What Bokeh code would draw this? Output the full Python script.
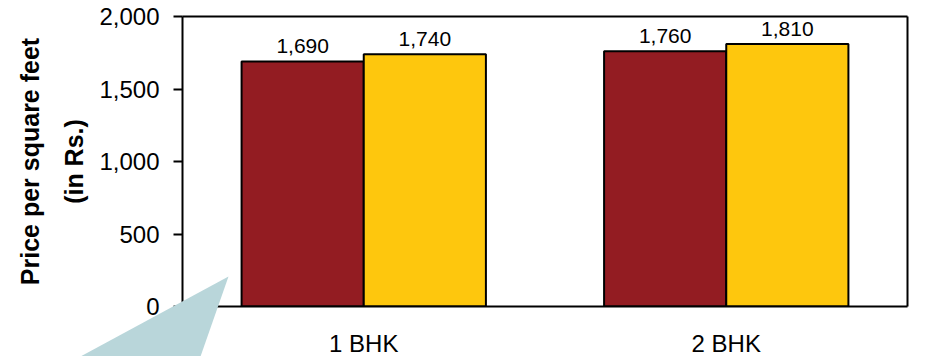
from bokeh.plotting import figure
from bokeh.models import (ColumnDataSource, FactorRange, Range1d, Title,
                          NumeralTickFormatter, FixedTicker, CategoricalAxis,
                          LinearAxis)
from bokeh.core.properties import value
from bokeh.transform import dodge
from bokeh.embed import file_html
from bokeh.resources import INLINE

# Price per square foot (Rs.) by flat type, two series side by side
categories = ["1 BHK", "2 BHK"]
series_a = [1690, 1760]
series_b = [1740, 1810]
y_ticks = [0, 500, 1000, 1500, 2000]

FONT = "Liberation Sans"
RED = "#931C22"
YELLOW = "#FEC70D"
CALLOUT = "#B9D6DA"

# plot frame geometry (canvas pixels)
FRAME_LEFT, FRAME_TOP, FRAME_W, FRAME_H = 182, 16, 725, 290
Y_MAX = 2000

# callout pointer shape, in canvas pixels
callout_px = [(228, 276), (80, 356), (200, 356)]


def canvas_to_data(px, py):
    """Convert a canvas pixel to the plot's data space (x in factor units)."""
    x = (px - FRAME_LEFT) / FRAME_W * len(categories)
    y = (FRAME_TOP + FRAME_H - py) / FRAME_H * Y_MAX
    return x, y


source = ColumnDataSource(dict(
    cat=categories,
    a=series_a,
    b=series_b,
    a_txt=[f"{v:,}" for v in series_a],
    b_txt=[f"{v:,}" for v in series_b],
))

p = figure(
    x_range=FactorRange(*categories, range_padding=0),
    y_range=Range1d(0, Y_MAX),
    frame_width=FRAME_W, frame_height=FRAME_H,
    min_border_left=FRAME_LEFT, min_border_right=30,
    min_border_top=FRAME_TOP, min_border_bottom=50,
    output_backend="svg", toolbar_location=None,
)
p.grid.visible = False
p.outline_line_color = None
p.background_fill_color = "white"
p.border_fill_color = "white"

# the figure's own axes, taken before the edge axes are added
xax = p.below[0]
yax = p.left[0]

# top and right edges of the box as bare axis lines, so value labels can sit over them
top_edge = CategoricalAxis(major_tick_line_color=None, minor_tick_line_color=None,
                           major_tick_out=0, major_label_standoff=0,
                           major_label_text_font_size="0px",
                           axis_line_color="black", axis_line_width=2)
right_edge = LinearAxis(ticker=FixedTicker(ticks=[]), major_tick_line_color=None,
                        minor_tick_line_color=None, major_tick_out=0,
                        major_label_standoff=0, major_label_text_font_size="0px",
                        axis_line_color="black", axis_line_width=2)
p.add_layout(top_edge, "above")
p.add_layout(right_edge, "right")

BAR_W = 0.337
OFF = BAR_W / 2

p.vbar(x=dodge("cat", -OFF, range=p.x_range), top="a", width=BAR_W, source=source,
       fill_color=RED, line_color="black", line_width=2)
p.vbar(x=dodge("cat", OFF, range=p.x_range), top="b", width=BAR_W, source=source,
       fill_color=YELLOW, line_color="black", line_width=2)

# value labels on white boxes (they sit over the top border where they touch it)
for field, txt, off in (("a", "a_txt", -OFF), ("b", "b_txt", OFF)):
    p.text(x=dodge("cat", off, range=p.x_range), y=field, text=txt, source=source,
           text_align="center", text_baseline="alphabetic", y_offset=-15,
           text_font=value(FONT), text_font_size="21px", text_color="black",
           background_fill_color="white", padding=4, level="overlay")

# y axis
yax.ticker = FixedTicker(ticks=y_ticks)
yax.formatter = NumeralTickFormatter(format="0,0")
yax.minor_tick_line_color = None
yax.major_tick_in = 0
yax.major_tick_out = 9
yax.major_tick_line_color = "black"
yax.major_tick_line_width = 2
yax.axis_line_color = "black"
yax.axis_line_width = 2
yax.major_label_standoff = 14
yax.major_label_text_font = FONT
yax.major_label_text_font_size = "24px"
yax.major_label_text_color = "black"
yax.axis_label = "(in Rs.)"
yax.axis_label_text_font = FONT
yax.axis_label_text_font_size = "25px"
yax.axis_label_text_font_style = "bold"
yax.axis_label_text_color = "black"
yax.axis_label_standoff = 8

p.add_layout(Title(text="Price per square feet", text_font=FONT,
                   text_font_size="25px", text_font_style="bold",
                   text_color="black", align="center", standoff=27), "left")

# x axis
xax.major_tick_line_color = None
xax.minor_tick_line_color = None
xax.axis_line_color = "black"
xax.axis_line_width = 2
xax.major_label_standoff = 17
xax.major_label_text_font = FONT
xax.major_label_text_font_size = "24px"
xax.major_label_text_color = "black"

# callout pointer, drawn above the axes
cx, cy = zip(*(canvas_to_data(px, py) for px, py in callout_px))
p.patch(x=list(cx), y=list(cy), fill_color=CALLOUT, fill_alpha=1,
        line_color=None, level="overlay")

open("out.html", "w").write(file_html(p, INLINE))
